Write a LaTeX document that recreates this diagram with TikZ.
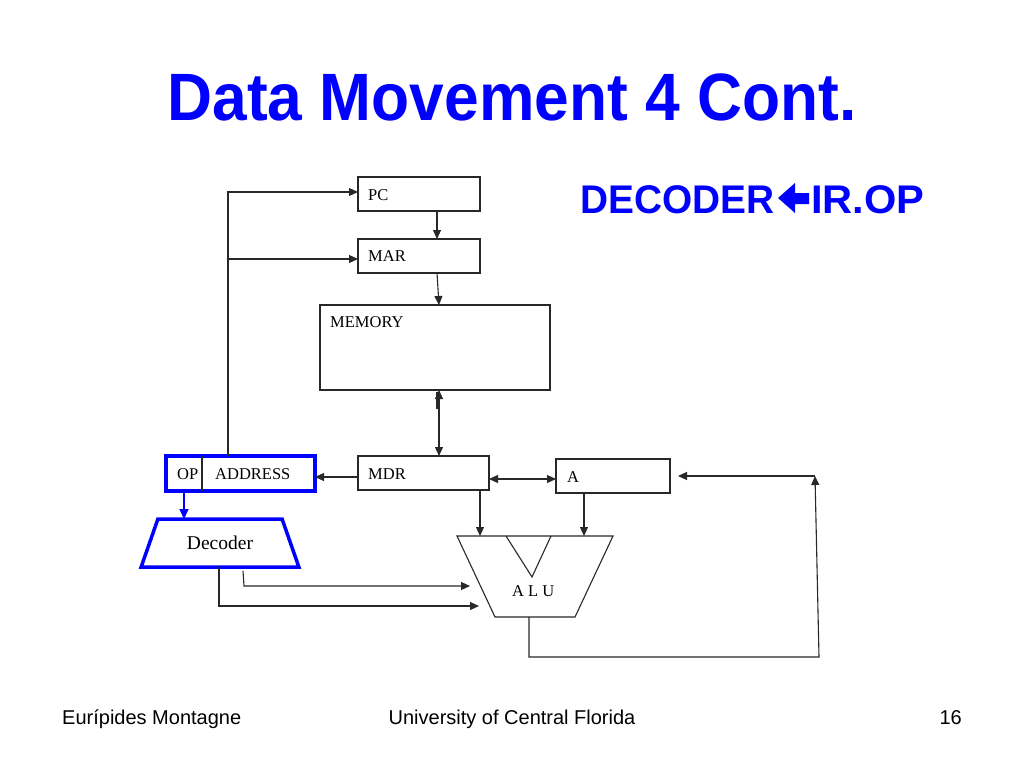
\documentclass[tikz,border=0pt]{standalone}
\usepackage{fontspec}
\setmainfont{Liberation Serif}
\newfontfamily\arial{Liberation Sans}
\usetikzlibrary{arrows.meta,shapes.geometric,calc}
\definecolor{ttl}{RGB}{0,0,255}
\definecolor{ln}{RGB}{40,40,40}
\tikzset{
  box/.style={draw=ln, line width=1.1pt, inner sep=0, outer sep=0, anchor=north west},
  bluebox/.style={box, draw=ttl, line width=3.5pt},
  lbl/.style={font=\fontsize{16.5}{18}\selectfont, inner sep=0, anchor=base west},
  arr/.style={draw=ln, line width=1.1pt, -{Triangle[length=9pt,width=8pt]}},
  darr/.style={draw=ln, line width=1.1pt, {Triangle[length=9pt,width=8pt]}-{Triangle[length=9pt,width=8pt]}},
  barr/.style={draw=ttl, line width=1.6pt, -{Triangle[length=10pt,width=9pt]}},
  plain/.style={draw=ln, line width=1.1pt},
  foot/.style={font=\arial\fontsize{20}{22}\selectfont, inner sep=0},
}
\begin{document}
\begin{tikzpicture}[x=1pt,y=-1pt]
\useasboundingbox (0,0) rectangle (1024,768);

% title
\node[font=\arial\bfseries\fontsize{67}{70}\selectfont, text=ttl, anchor=base, inner sep=0] (title) at (512,120) {\scalebox{0.93}[1]{Data Movement 4 Cont.}};

% register transfer statement
\node[font=\arial\bfseries\fontsize{40}{44}\selectfont, text=ttl, anchor=base west, inner sep=0] (dcd) at (580,213) {\scalebox{0.97}[1]{DECODER}};
\node[font=\arial\bfseries\fontsize{40}{44}\selectfont, text=ttl, anchor=base west, inner sep=0] (irop) at (811,213) {\scalebox{1.04}[1]{IR.OP}};
\fill[ttl] (778,198) -- (795,183) -- (795,193) -- (809,193) -- (809,204) -- (795,204) -- (795,213) -- cycle;

% boxes
\node[box, minimum width=122pt, minimum height=34pt] (pc) at (358,177) {};
\node[box, minimum width=122pt, minimum height=34pt] (mar) at (358,239) {};
\node[box, minimum width=230pt, minimum height=85pt] (mem) at (320,305) {};
\node[box, minimum width=131pt, minimum height=34pt] (mdr) at (358,456) {};
\node[bluebox, minimum width=149pt, minimum height=35pt] (ir) at (166,456) {};
\node[box, minimum width=114pt, minimum height=34pt] (a) at (556,459) {};
\draw[plain] ([xshift=36pt]ir.north west) -- ([xshift=36pt]ir.south west);

\node[trapezium, trapezium angle=57, trapezium stretches=true, minimum width=158pt, minimum height=48pt,
      draw=ttl, line width=3.5pt, inner sep=0, outer sep=0, font=\fontsize{19.5}{22}\selectfont] (dec) at (220,543) {\raisebox{-2.5pt}{Decoder}};

% ALU
\coordinate (alu-nw) at (457,536);
\coordinate (alu-ne) at (613,536);
\coordinate (alu-se) at (575,617);
\coordinate (alu-sw) at (495,617);
\draw[plain, line join=miter] (alu-nw) -- (alu-ne) -- (alu-se) -- (alu-sw) -- cycle;
\coordinate (v1) at (506,536);
\coordinate (v2) at (532,577);
\coordinate (v3) at (551,536);
\draw[plain] (v1) -- (v2) -- (v3);

% labels
\node[lbl] (pcl) at (368,200) {PC};
\node[lbl] (marl) at (368,261) {MAR};
\node[lbl] (meml) at (330,327) {MEMORY};
\node[lbl] (mdrl) at (368,479) {MDR};
\node[lbl] (opl) at (177,479) {OP};
\node[lbl] (addrl) at (215,479) {ADDRESS};
\node[lbl] (al) at (567,482) {A};
\node[lbl] (alul) at (512,596) {A L U};

% connectors
\coordinate (bus) at ([xshift=62pt]ir.north west);
\coordinate (marin) at ([yshift=-3pt]mar.west);
\draw[arr] (bus) |- ([yshift=2pt]pc.west);
\draw[arr] (bus |- marin) -- (marin);

\coordinate (p1) at ([xshift=79pt]pc.south west);
\draw[arr] (p1) -- (p1 |- mar.north);
\draw[arr] ([xshift=79pt]mar.south west) -- ([xshift=119pt]mem.north west);

\coordinate (mm) at ([xshift=119pt]mem.south west);
\draw[darr] (mm) -- (mm |- mdr.north);
\draw[plain] ([xshift=-2pt,yshift=-2pt]mm) -- ++(0,17);

\coordinate (mw) at ([yshift=-4pt]mdr.west);
\draw[arr] (mw) -- (mw -| ir.east);

\coordinate (mae) at ([yshift=-6pt]mdr.east);
\draw[darr] (mae) -- (mae -| a.west);

\coordinate (op) at ([xshift=18pt]ir.south west);
\draw[barr] (op) -- (op |- dec.north);

\coordinate (m1) at ([xshift=122pt]mdr.south west);
\draw[arr] (m1) -- (m1 |- alu-nw);
\coordinate (a1) at ([xshift=28pt]a.south west);
\draw[arr] (a1) -- (a1 |- alu-nw);

\coordinate (d1) at ([xshift=23pt,yshift=-4pt]dec.south);
\coordinate (ain1) at (470,586);
\draw[arr] (d1) -- +(1,15) -- (ain1);
\coordinate (ain2) at (479,606);
\draw[arr] ([xshift=-1pt]dec.south) |- (ain2);

\coordinate (aout) at (529,617);
\coordinate (fb) at (815,476);
\coordinate (corner) at (819,657);
\draw[arr] (aout) -- (aout |- corner) -- (corner) -- (fb);
\coordinate (fbend) at ([xshift=8pt]a.east);
\draw[arr] (fb) -- (fbend);

% footer
\node[foot, anchor=base west] (auth) at (62,724) {Eurípides Montagne};
\node[foot, anchor=base] (univ) at (512,724) {University of Central Florida};
\node[foot, anchor=base east] (pg) at (962,724) {16};
\end{tikzpicture}
\end{document}
